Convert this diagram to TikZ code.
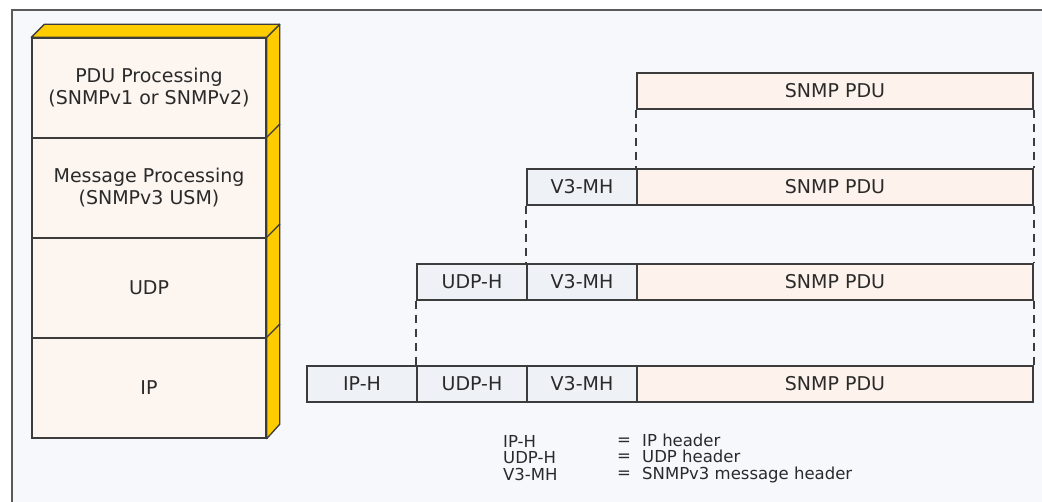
\documentclass[tikz,border=0pt]{standalone}
\usepackage{fontspec}
\setmainfont{DejaVu Sans}
\usetikzlibrary{calc}
\definecolor{snbg}{HTML}{F7F8FC}
\definecolor{snline}{HTML}{3C3C3C}
\definecolor{sntext}{HTML}{2A2A2A}
\definecolor{snframe}{HTML}{5A5A5A}
\definecolor{snpeach}{HTML}{FDF5F0}
\definecolor{snyel}{HTML}{FFCC00}
\definecolor{snhdr}{HTML}{EEF2F7}
\definecolor{snpdu}{HTML}{FDF3EC}
\newcommand\snfont{\fontsize{19}{22}\selectfont}
\newcommand\legfont{\fontsize{16.5}{16.5}\selectfont}
\tikzset{
  lay/.style  = {rectangle, draw=snline, line width=1.4pt, fill=snpeach,
                 minimum width=234pt, minimum height=100pt, text=sntext,
                 font=\snfont, align=center, inner sep=0pt},
  side/.style = {draw=snline, line width=1.3pt, fill=snyel, line join=round},
  hdr/.style  = {rectangle, draw=snline, line width=1.4pt, fill=snhdr,
                 minimum width=110pt, minimum height=36pt, text=sntext,
                 font=\snfont, inner sep=0pt},
  pdu/.style  = {hdr, fill=snpdu, minimum width=396pt},
  dsh/.style  = {draw=snline, line width=1.8pt, dash pattern=on 8pt off 6pt},
  lbl/.style  = {font=\legfont, text=sntext, align=left, inner sep=0pt,
                 anchor=west},
}
\begin{document}
\begin{tikzpicture}[x=1pt,y=-1pt]
  \useasboundingbox (0,0) rectangle (1042,501);
  \clip (0,0) rectangle (1042,501);
  \fill[white] (0,0) rectangle (1042,501);
  \draw[draw=snframe, line width=1.6pt, fill=snbg] (12,10) rectangle (1060,520);
  % protocol stack
  \node[lay] (l1) at (149,88)  {PDU Processing\\(SNMPv1 or SNMPv2)};
  \node[lay] (l2) at (149,188) {Message Processing\\(SNMPv3 USM)};
  \node[lay] (l3) at (149,288) {UDP};
  \node[lay] (l4) at (149,388) {IP};
  \foreach \l in {l1,l2,l3,l4}{
    \draw[side] (\l.north east) -- ++(13,-13) -- ++(0,100)
      -- (\l.south east) -- cycle;
  }
  \draw[side] (l1.north west) -- ++(13,-13) -- ($(l1.north east)+(13,-13)$)
    -- (l1.north east) -- cycle;
  % packets
  \foreach \i/\y in {1/91,2/187,3/282,4/384}{
    \node[pdu] (pdu\i) at (835,\y) {SNMP PDU};
  }
  \node[hdr] (mh2)  at (582,187) {V3-MH};
  \node[hdr] (mh3)  at (582,282) {V3-MH};
  \node[hdr] (udp3) at (472,282) {UDP-H};
  \node[hdr] (mh4)  at (582,384) {V3-MH};
  \node[hdr] (udp4) at (472,384) {UDP-H};
  \node[hdr] (iph4) at (362,384) {IP-H};
  \draw[dsh] (pdu1.south west) -- (pdu2.north west);
  \draw[dsh] (pdu1.south east) -- (pdu2.north east);
  \draw[dsh] (mh2.south west) -- (mh3.north west);
  \draw[dsh] (pdu2.south east) -- (pdu3.north east);
  \draw[dsh] (udp3.south west) -- (udp4.north west);
  \draw[dsh] (pdu3.south east) -- (pdu4.north east);
  % legend
  \node[lbl] (lk) at (503,458) {IP-H\\UDP-H\\V3-MH};
  \node[lbl] (le) at (617,458) {=\\=\\=};
  \node[lbl] (lv) at (642,458) {IP header\\UDP header\\SNMPv3 message header};
\end{tikzpicture}
\end{document}
